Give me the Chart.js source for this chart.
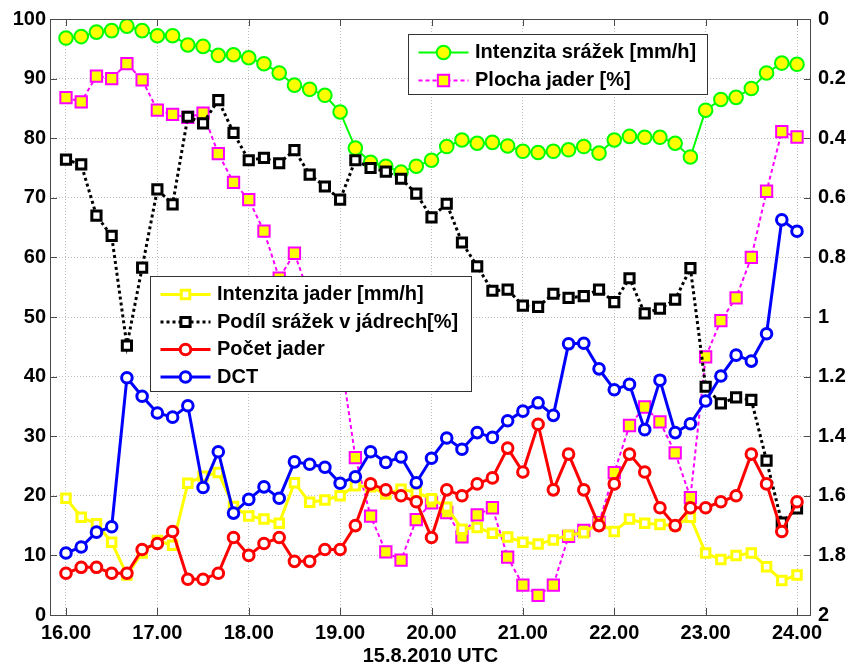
<!DOCTYPE html>
<html>
<head>
<meta charset="utf-8">
<script src="https://cdn.jsdelivr.net/npm/chart.js@4/dist/chart.umd.min.js"></script>
<style>
html,body{margin:0;padding:0;background:#fff;}
canvas{display:block;}
</style>
</head>
<body>
<canvas id="c" width="849" height="668"></canvas>
<script>
// ---------- DATA ----------
const times = [
  '16:00','16:10','16:20','16:30','16:40','16:50',
  '17:00','17:10','17:20','17:30','17:40','17:50',
  '18:00','18:10','18:20','18:30','18:40','18:50',
  '19:00','19:10','19:20','19:30','19:40','19:50',
  '20:00','20:10','20:20','20:30','20:40','20:50',
  '21:00','21:10','21:20','21:30','21:40','21:50',
  '22:00','22:10','22:20','22:30','22:40','22:50',
  '23:00','23:10','23:20','23:30','23:40','23:50',
  '24:00'
];

const xTickValues = [16, 17, 18, 19, 20, 21, 22, 23, 24];
const xTickLabels = ['16.00','17.00','18.00','19.00','20.00','21.00','22.00','23.00','24.00'];
const leftTickValues = [0, 10, 20, 30, 40, 50, 60, 70, 80, 90, 100];
const leftTickLabels = ['0','10','20','30','40','50','60','70','80','90','100'];
const rightTickValues = [0, 0.2, 0.4, 0.6, 0.8, 1, 1.2, 1.4, 1.6, 1.8, 2];
const rightTickLabels = ['0','0.2','0.4','0.6','0.8','1','1.2','1.4','1.6','1.8','2'];
const xAxisTitle = '15.8.2010 UTC';

// Intenzita srážek [mm/h] (right axis, reversed)
const intenzitaSrazek = [
  0.064, 0.059, 0.044, 0.039, 0.024, 0.039, 0.056, 0.056, 0.087, 0.092,
  0.122, 0.120, 0.130, 0.150, 0.181, 0.222, 0.236, 0.256, 0.312, 0.433,
  0.481, 0.494, 0.514, 0.494, 0.474, 0.428, 0.406, 0.417, 0.414, 0.426,
  0.444, 0.448, 0.444, 0.439, 0.428, 0.450, 0.406, 0.394, 0.397, 0.397,
  0.417, 0.463, 0.306, 0.270, 0.263, 0.233, 0.181, 0.148, 0.152
];

// Plocha jader [%]
const plochaJader = [
  86.8, 86.1, 90.4, 90.0, 92.5, 89.8, 84.7, 84.0, 83.5, 84.2,
  77.4, 72.6, 69.7, 64.4, 56.5, 60.7, 53.5, 49.0, 44.0, 26.4,
  16.6, 10.6, 9.2, 16.0, 18.8, 17.2, 13.1, 16.8, 18.0, 9.7,
  5.0, 3.3, 5.0, 13.2, 14.2, 15.5, 23.9, 31.8, 34.9, 32.4,
  27.2, 19.7, 43.3, 49.4, 53.2, 60.0, 71.1, 81.1, 80.2
];

// Intenzita jader [mm/h]
const intenzitaJader = [
  19.6, 16.4, 15.3, 12.2, 6.7, 10.4, 12.5, 11.7, 22.1, 23.3,
  23.9, 18.2, 16.6, 16.1, 15.4, 22.2, 18.9, 19.3, 20.0, 21.7,
  21.5, 20.3, 21.1, 20.6, 19.5, 18.1, 14.4, 14.7, 13.7, 13.1,
  12.2, 11.9, 12.6, 13.4, 13.8, 15.4, 14.0, 16.1, 15.4, 15.2,
  15.0, 16.4, 10.4, 9.3, 10.0, 10.4, 8.1, 5.8, 6.7
];

// Podíl srážek v jádrech [%]
const podilSrazek = [
  76.4, 75.6, 67.0, 63.6, 45.2, 58.3, 71.4, 68.9, 83.6, 82.5,
  86.4, 80.9, 76.3, 76.7, 75.8, 78.0, 73.9, 71.9, 69.7, 76.3,
  75.0, 74.4, 73.2, 70.7, 66.7, 69.0, 62.5, 58.5, 54.4, 54.6,
  51.9, 51.7, 53.9, 53.2, 53.5, 54.6, 52.5, 56.5, 50.6, 51.4,
  52.9, 58.2, 38.3, 35.5, 36.5, 36.1, 25.9, 15.5, 17.9
];

// Počet jader
const pocetJader = [
  7, 8, 8, 7, 7, 11, 12, 14, 6, 6,
  7, 13, 10, 12, 13, 9, 9, 11, 11, 15,
  22, 21, 20, 19, 13, 21, 20, 22, 23, 28,
  24, 32, 21, 27, 21, 15, 22, 27, 24, 18,
  15, 18, 18, 19, 20, 27, 22, 14, 19
];

// DCT
const dct = [
  10.4, 11.4, 13.9, 14.8, 39.8, 36.7, 33.9, 33.2, 35.1, 21.4,
  27.4, 17.1, 19.4, 21.5, 19.6, 25.7, 25.3, 24.8, 22.1, 23.2,
  27.4, 25.6, 26.5, 22.2, 26.3, 29.7, 27.8, 30.6, 29.8, 32.6,
  34.2, 35.6, 33.5, 45.5, 45.6, 41.3, 37.8, 38.7, 31.1, 39.4,
  30.6, 32.1, 35.9, 40.1, 43.6, 42.6, 47.2, 66.3, 64.4
];

// ---------- CHART ----------
const FONT_FAMILY = "'Liberation Sans', Arial, Helvetica, sans-serif";
const tickFont = { family: FONT_FAMILY, size: 20, weight: 'bold' };

const xs = times.map(s => { const p = s.split(':'); return Number(p[0]) + Number(p[1]) / 60; });
const pts = arr => arr.map((v, i) => ({ x: xs[i], y: v }));

const datasets = [
  { label: 'Intenzita srážek [mm/h]', data: pts(intenzitaSrazek), yAxisID: 'yR',
    borderColor: '#00ff00', borderWidth: 2, pointStyle: 'circle', pointRadius: 6.8,
    pointBackgroundColor: '#ffff00', pointBorderColor: '#00ff00', pointBorderWidth: 2, order: 5 },
  { label: 'Plocha jader [%]', data: pts(plochaJader), yAxisID: 'y',
    borderColor: '#ff00ff', borderWidth: 2, borderDash: [4, 3], pointStyle: 'rect', pointRadius: 8,
    pointBackgroundColor: '#ffff00', pointBorderColor: '#ff00ff', pointBorderWidth: 2, order: 6 },
  { label: 'Intenzita jader [mm/h]', data: pts(intenzitaJader), yAxisID: 'y',
    borderColor: '#ffff00', borderWidth: 3, pointStyle: 'rect', pointRadius: 6,
    pointBackgroundColor: '#ffffff', pointBorderColor: '#ffff00', pointBorderWidth: 3, order: 4 },
  { label: 'Podíl srážek v jádrech[%]', data: pts(podilSrazek), yAxisID: 'y',
    borderColor: '#000000', borderWidth: 3, borderDash: [3, 3], pointStyle: 'rect', pointRadius: 6.5,
    pointBackgroundColor: '#ffffff', pointBorderColor: '#000000', pointBorderWidth: 3, order: 3 },
  { label: 'Počet jader', data: pts(pocetJader), yAxisID: 'y',
    borderColor: '#ff0000', borderWidth: 3, pointStyle: 'circle', pointRadius: 5.3,
    pointBackgroundColor: '#ffffff', pointBorderColor: '#ff0000', pointBorderWidth: 3, order: 2 },
  { label: 'DCT', data: pts(dct), yAxisID: 'y',
    borderColor: '#0000ff', borderWidth: 3, pointStyle: 'circle', pointRadius: 5.3,
    pointBackgroundColor: '#ffffff', pointBorderColor: '#0000ff', pointBorderWidth: 3, order: 1 }
];
datasets.forEach(d => { d.tension = 0; d.fill = false; d.pointHoverRadius = d.pointRadius; });

function drawMarker(ctx, ds, x, y) {
  ctx.save();
  ctx.setLineDash([]);
  ctx.lineWidth = ds.pointBorderWidth;
  ctx.fillStyle = ds.pointBackgroundColor;
  ctx.strokeStyle = ds.pointBorderColor;
  ctx.beginPath();
  if (ds.pointStyle === 'circle') {
    ctx.arc(x, y, ds.pointRadius, 0, Math.PI * 2);
  } else {
    const s = ds.pointRadius * Math.SQRT1_2;
    ctx.rect(x - s, y - s, 2 * s, 2 * s);
  }
  ctx.fill();
  ctx.stroke();
  ctx.restore();
}

const frameAndLegends = {
  id: 'frameAndLegends',
  afterDraw(chart) {
    const ctx = chart.ctx;
    const ca = chart.chartArea;
    const sx = chart.scales.x, sy = chart.scales.y, syR = chart.scales.yR;
    const TL = 7;
    ctx.save();
    // box
    ctx.strokeStyle = '#4a4a4a';
    ctx.lineWidth = 1;
    ctx.setLineDash([]);
    ctx.strokeRect(Math.round(ca.left) + 0.5, Math.round(ca.top) + 0.5,
                   Math.round(ca.right - ca.left) - 1, Math.round(ca.bottom - ca.top));
    ctx.beginPath();
    xTickValues.forEach(v => {
      const px = Math.round(sx.getPixelForValue(v)) + 0.5;
      ctx.moveTo(px, ca.bottom); ctx.lineTo(px, ca.bottom - TL);
      ctx.moveTo(px, ca.top); ctx.lineTo(px, ca.top + TL);
    });
    leftTickValues.forEach(v => {
      const py = Math.round(sy.getPixelForValue(v)) + 0.5;
      ctx.moveTo(ca.left, py); ctx.lineTo(ca.left + TL, py);
    });
    rightTickValues.forEach(v => {
      const py = Math.round(syR.getPixelForValue(v)) + 0.5;
      ctx.moveTo(ca.right, py); ctx.lineTo(ca.right - TL, py);
    });
    ctx.stroke();

    // legends
    const ds = chart.data.datasets;
    const boxes = [
      { x: ca.left + 358.5, y: ca.top + 15.5, w: 299, h: 60, items: [0, 1], step: 28 },
      { x: ca.left + 100.5, y: ca.top + 257.5, w: 321, h: 115, items: [2, 3, 4, 5], step: 27.5 }
    ];
    boxes.forEach(b => {
      ctx.fillStyle = '#ffffff';
      ctx.fillRect(b.x, b.y, b.w, b.h);
      ctx.strokeStyle = '#333333';
      ctx.lineWidth = 1;
      ctx.setLineDash([]);
      ctx.strokeRect(b.x, b.y, b.w, b.h);
      b.items.forEach((di, k) => {
        const d = ds[di];
        const cy = b.y + 18 + k * b.step;
        ctx.save();
        ctx.strokeStyle = d.borderColor;
        ctx.lineWidth = d.borderWidth;
        ctx.setLineDash(d.borderDash || []);
        ctx.beginPath();
        ctx.moveTo(b.x + 10, cy);
        ctx.lineTo(b.x + 60, cy);
        ctx.stroke();
        ctx.restore();
        drawMarker(ctx, d, b.x + 35, cy);
        ctx.fillStyle = '#000000';
        ctx.font = 'bold 20px ' + FONT_FAMILY;
        ctx.textBaseline = 'middle';
        ctx.textAlign = 'left';
        ctx.fillText(d.label, b.x + 66.5, cy);
      });
    });
    ctx.restore();
  }
};

new Chart(document.getElementById('c'), {
  type: 'line',
  data: { datasets: datasets },
  plugins: [frameAndLegends],
  options: {
    responsive: false,
    animation: false,
    devicePixelRatio: 1,
    layout: { padding: { top: 15, left: 0, right: 0, bottom: 0 } },
    plugins: { legend: { display: false }, tooltip: { enabled: false } },
    scales: {
      x: {
        type: 'linear', position: 'bottom', min: 15.825, max: 24.153,
        afterBuildTicks: s => { s.ticks = xTickValues.map(v => ({ value: v })); },
        afterFit: s => { s.height = 53; },
        ticks: { callback: (v, i) => xTickLabels[i], font: tickFont, color: '#000',
                 padding: 6, autoSkip: false, maxRotation: 0, minRotation: 0 },
        grid: { color: '#bdbdbd', lineWidth: 1, drawTicks: false },
        border: { display: false, dash: [1, 2] },
        title: { display: true, text: xAxisTitle, font: tickFont, color: '#000',
                 padding: { top: 0, bottom: 0 } }
      },
      y: {
        type: 'linear', position: 'left', min: 0, max: 100,
        afterBuildTicks: s => { s.ticks = leftTickValues.map(v => ({ value: v })); },
        afterFit: s => { s.width = 50; },
        ticks: { callback: (v, i) => leftTickLabels[i], font: tickFont, color: '#000', padding: 4, autoSkip: false },
        grid: { color: '#bdbdbd', lineWidth: 1, drawTicks: false },
        border: { display: false, dash: [1, 2] }
      },
      yR: {
        type: 'linear', position: 'right', min: 0, max: 2, reverse: true,
        afterBuildTicks: s => { s.ticks = rightTickValues.map(v => ({ value: v })); },
        afterFit: s => { s.width = 38; },
        ticks: { callback: (v, i) => rightTickLabels[i], font: tickFont, color: '#000', padding: 7, autoSkip: false },
        grid: { display: false, drawTicks: false },
        border: { display: false }
      }
    }
  }
});
</script>
</body>
</html>
